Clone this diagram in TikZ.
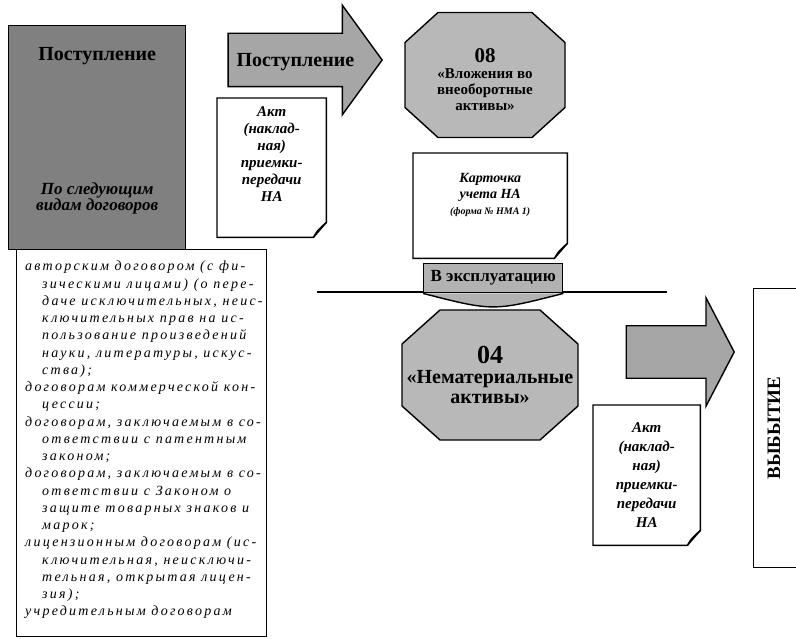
\documentclass[tikz,border=0pt]{standalone}
\usepackage{fontspec}
\setmainfont{Liberation Serif}
\newfontfamily\razrfont[LetterSpace=16]{Liberation Serif}
\usetikzlibrary{shapes.arrows}

% отступ для переноса строки в списке
\newcommand{\ot}{\hspace*{17pt}}
% контур листка с загнутым углом
\newcommand{\listok}[1]{%
  \draw[sery] (#1.north west) -- (#1.north east) -- ([yshift=15pt]#1.south east)
    -- ([xshift=-13pt]#1.south east) -- (#1.south west) -- cycle;
  \draw[sery] ([yshift=15pt]#1.south east) .. controls ([xshift=-9pt,yshift=7pt]#1.south east) .. ([xshift=-13pt]#1.south east);
}
% восьмиугольник: центр, полуширина, полувысота, срез по x, срез по y
\newcommand{\vosmiug}[5]{%
  \filldraw[sery,fill=black!28]
    ([shift={({-#2+#4},-#3)}]#1) -- ([shift={({#2-#4},-#3)}]#1)
    -- ([shift={(#2,{-#3+#5})}]#1) -- ([shift={(#2,{#3-#5})}]#1)
    -- ([shift={({#2-#4},#3)}]#1) -- ([shift={({-#2+#4},#3)}]#1)
    -- ([shift={(-#2,{#3-#5})}]#1) -- ([shift={(-#2,{-#3+#5})}]#1) -- cycle;
}

\begin{document}
\begin{tikzpicture}[x=1pt,y=-1pt,
  sery/.style={draw=black,line width=1.4pt},
  strelka/.style={single arrow,sery,fill=black!35,inner sep=0pt,
    single arrow head extend=28pt,font=\bfseries\fontsize{20}{22}\selectfont},
  vosemT/.style={inner sep=0pt,align=center},
  zapiska/.style={inner sep=0pt,align=center,anchor=north west,
    font=\bfseries\itshape\fontsize{15}{17}\selectfont}]
\useasboundingbox (0,0) rectangle (796,639);

% Список договоров
\node[sery,minimum width=250pt,minimum height=387pt,anchor=north west] (spisok) at (16,249) {};
\node[inner sep=0pt,anchor=north west,align=left,
  font=\razrfont\itshape\fontsize{14}{17.25}\selectfont] (spisokT)
  at ([xshift=9pt,yshift=-12pt]spisok.north west) {%
авторским договором (с фи-\\
\ot зическими лицами) (о пере-\\
\ot даче исключительных, неис-\\
\ot ключительных прав на ис-\\
\ot пользование произведений\\
\ot науки, литературы, искус-\\
\ot ства);\\
договорам коммерческой кон-\\
\ot цессии;\\
договорам, заключаемым в со-\\
\ot ответствии с патентным\\
\ot законом;\\
договорам, заключаемым в со-\\
\ot ответствии с Законом о\\
\ot защите товарных знаков и\\
\ot марок;\\
лицензионным договорам (ис-\\
\ot ключительная, неисключи-\\
\ot тельная, открытая лицен-\\
\ot зия);\\
учредительным договорам};

% Поступление
\node[sery,fill=black!50,minimum width=177pt,minimum height=224pt,anchor=north west] (postup) at (8,25) {};
\node[font=\bfseries\fontsize{20}{22}\selectfont] (postupT) at ([yshift=-31pt]postup.north) {Поступление};
\node[align=center,font=\bfseries\itshape\fontsize{17}{16}\selectfont] (vidy)
  at ([yshift=52pt]postup.south) {По следующим\\видам договоров};

% Стрелка поступления
\node[strelka,minimum height=154pt,text height=33pt,text depth=19pt,
  single arrow tip angle=108,anchor=tip] (str1) at (383,60) {Поступление};
\node[zapiska,minimum width=109pt,minimum height=139pt,text depth=27pt] (akt1) at (217,98)
  {Акт\\(наклад-\\ная)\\приемки-\\передачи\\НА};
\listok{akt1}

% Счет 08
\coordinate (c08) at (485,75);
\vosmiug{c08}{80}{62.5}{33}{30}
\node[vosemT,font=\bfseries\fontsize{15}{16}\selectfont] (sch08) at ([yshift=-5pt]c08)
  {{\fontsize{21}{26}\selectfont 08}\\«Вложения во\\внеоборотные\\активы»};
\node[zapiska,minimum width=154pt,minimum height=105pt,text depth=24pt,
  font=\bfseries\itshape\fontsize{14}{16}\selectfont] (kartochka) at (413,153)
  {Карточка\\учета НА\\{\fontsize{10}{15}\selectfont (форма № НМА 1)}};
\listok{kartochka}

% В эксплуатацию
\coordinate (chertaL) at (317,292);
\coordinate (chertaR) at (667,292);
\draw[line width=1.8pt] (chertaL) -- (chertaR);
\node[sery,fill=black!30,minimum width=139pt,minimum height=29pt,anchor=north west,
  font=\bfseries\fontsize{17}{19}\selectfont] (vexpl) at (423,263) {В эксплуатацию};
\filldraw[sery,fill=black!30] (vexpl.south west) .. controls ([yshift=-18pt]vexpl.south) .. (vexpl.south east);

% Счет 04
\coordinate (c04) at (490,375);
\vosmiug{c04}{88}{65}{38}{34}
\node[vosemT,font=\bfseries\fontsize{20}{20}\selectfont] (sch04) at (c04)
  {{\fontsize{26}{30}\selectfont 04}\\«Нематериальные\\активы»};

% Стрелка выбытия
\node[strelka,minimum height=108pt,inner ysep=25.5pt,
  single arrow tip angle=125,anchor=tip] (str2) at (735,352) {};
\node[zapiska,minimum width=107pt,minimum height=140pt,font=\bfseries\itshape\fontsize{15}{19}\selectfont]
  (akt2) at (593,405) {Акт\\(наклад-\\ная)\\приемки-\\передачи\\НА};
\listok{akt2}

% Выбытие
\node[sery,minimum width=50pt,minimum height=279pt,anchor=north west] (vybyt) at (753,288) {};
\node[rotate=90,font=\bfseries\fontsize{19}{21}\selectfont] (vybytT) at (774,428) {ВЫБЫТИЕ};
\end{tikzpicture}
\end{document}
